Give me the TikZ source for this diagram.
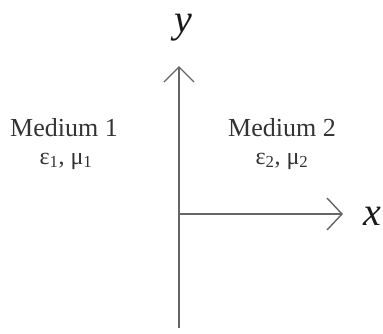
\documentclass[tikz,border=0pt]{standalone}
\usepackage{fontspec}
\setmainfont{Liberation Serif}
\begin{document}
\begin{tikzpicture}[x=1pt,y=-1pt,
  axis/.style={draw=black!60, line width=1.4pt},
  medlabel/.style={font=\fontsize{26}{28}\selectfont, text=black!80, inner sep=0pt},
  parlabel/.style={font=\fontsize{24}{26}\selectfont, text=black!80, inner sep=0pt},
  axlabel/.style={font=\fontsize{40}{42}\selectfont\itshape, text=black!90, inner sep=0pt}]
\useasboundingbox (0,0) rectangle (383,333);
\fill[white] (0,0) rectangle (383,333);
\coordinate (O) at (179,214);
\coordinate (ytop) at (179,67);
\coordinate (ybot) at (179,328);
\coordinate (xend) at (342,214);
\draw[axis] (ybot) -- (ytop);
\draw[axis] (O) -- (xend);
\draw[axis] (ytop) ++(-15,15) -- (ytop) -- ++(15,15);
\draw[axis] (xend) ++(-15,-16) -- (xend) -- ++(-15,16);
\node[axlabel] (ylab) at (183,28) {y};
\node[axlabel] (xlab) at (372,216) {x};
\node[medlabel] (m1) at (64,128) {Medium 1};
\node[parlabel] (p1) at (66,161) {ε\textsubscript{1}, μ\textsubscript{1}};
\node[medlabel] (m2) at (282,128) {Medium 2};
\node[parlabel] (p2) at (282,161) {ε\textsubscript{2}, μ\textsubscript{2}};
\end{tikzpicture}
\end{document}
